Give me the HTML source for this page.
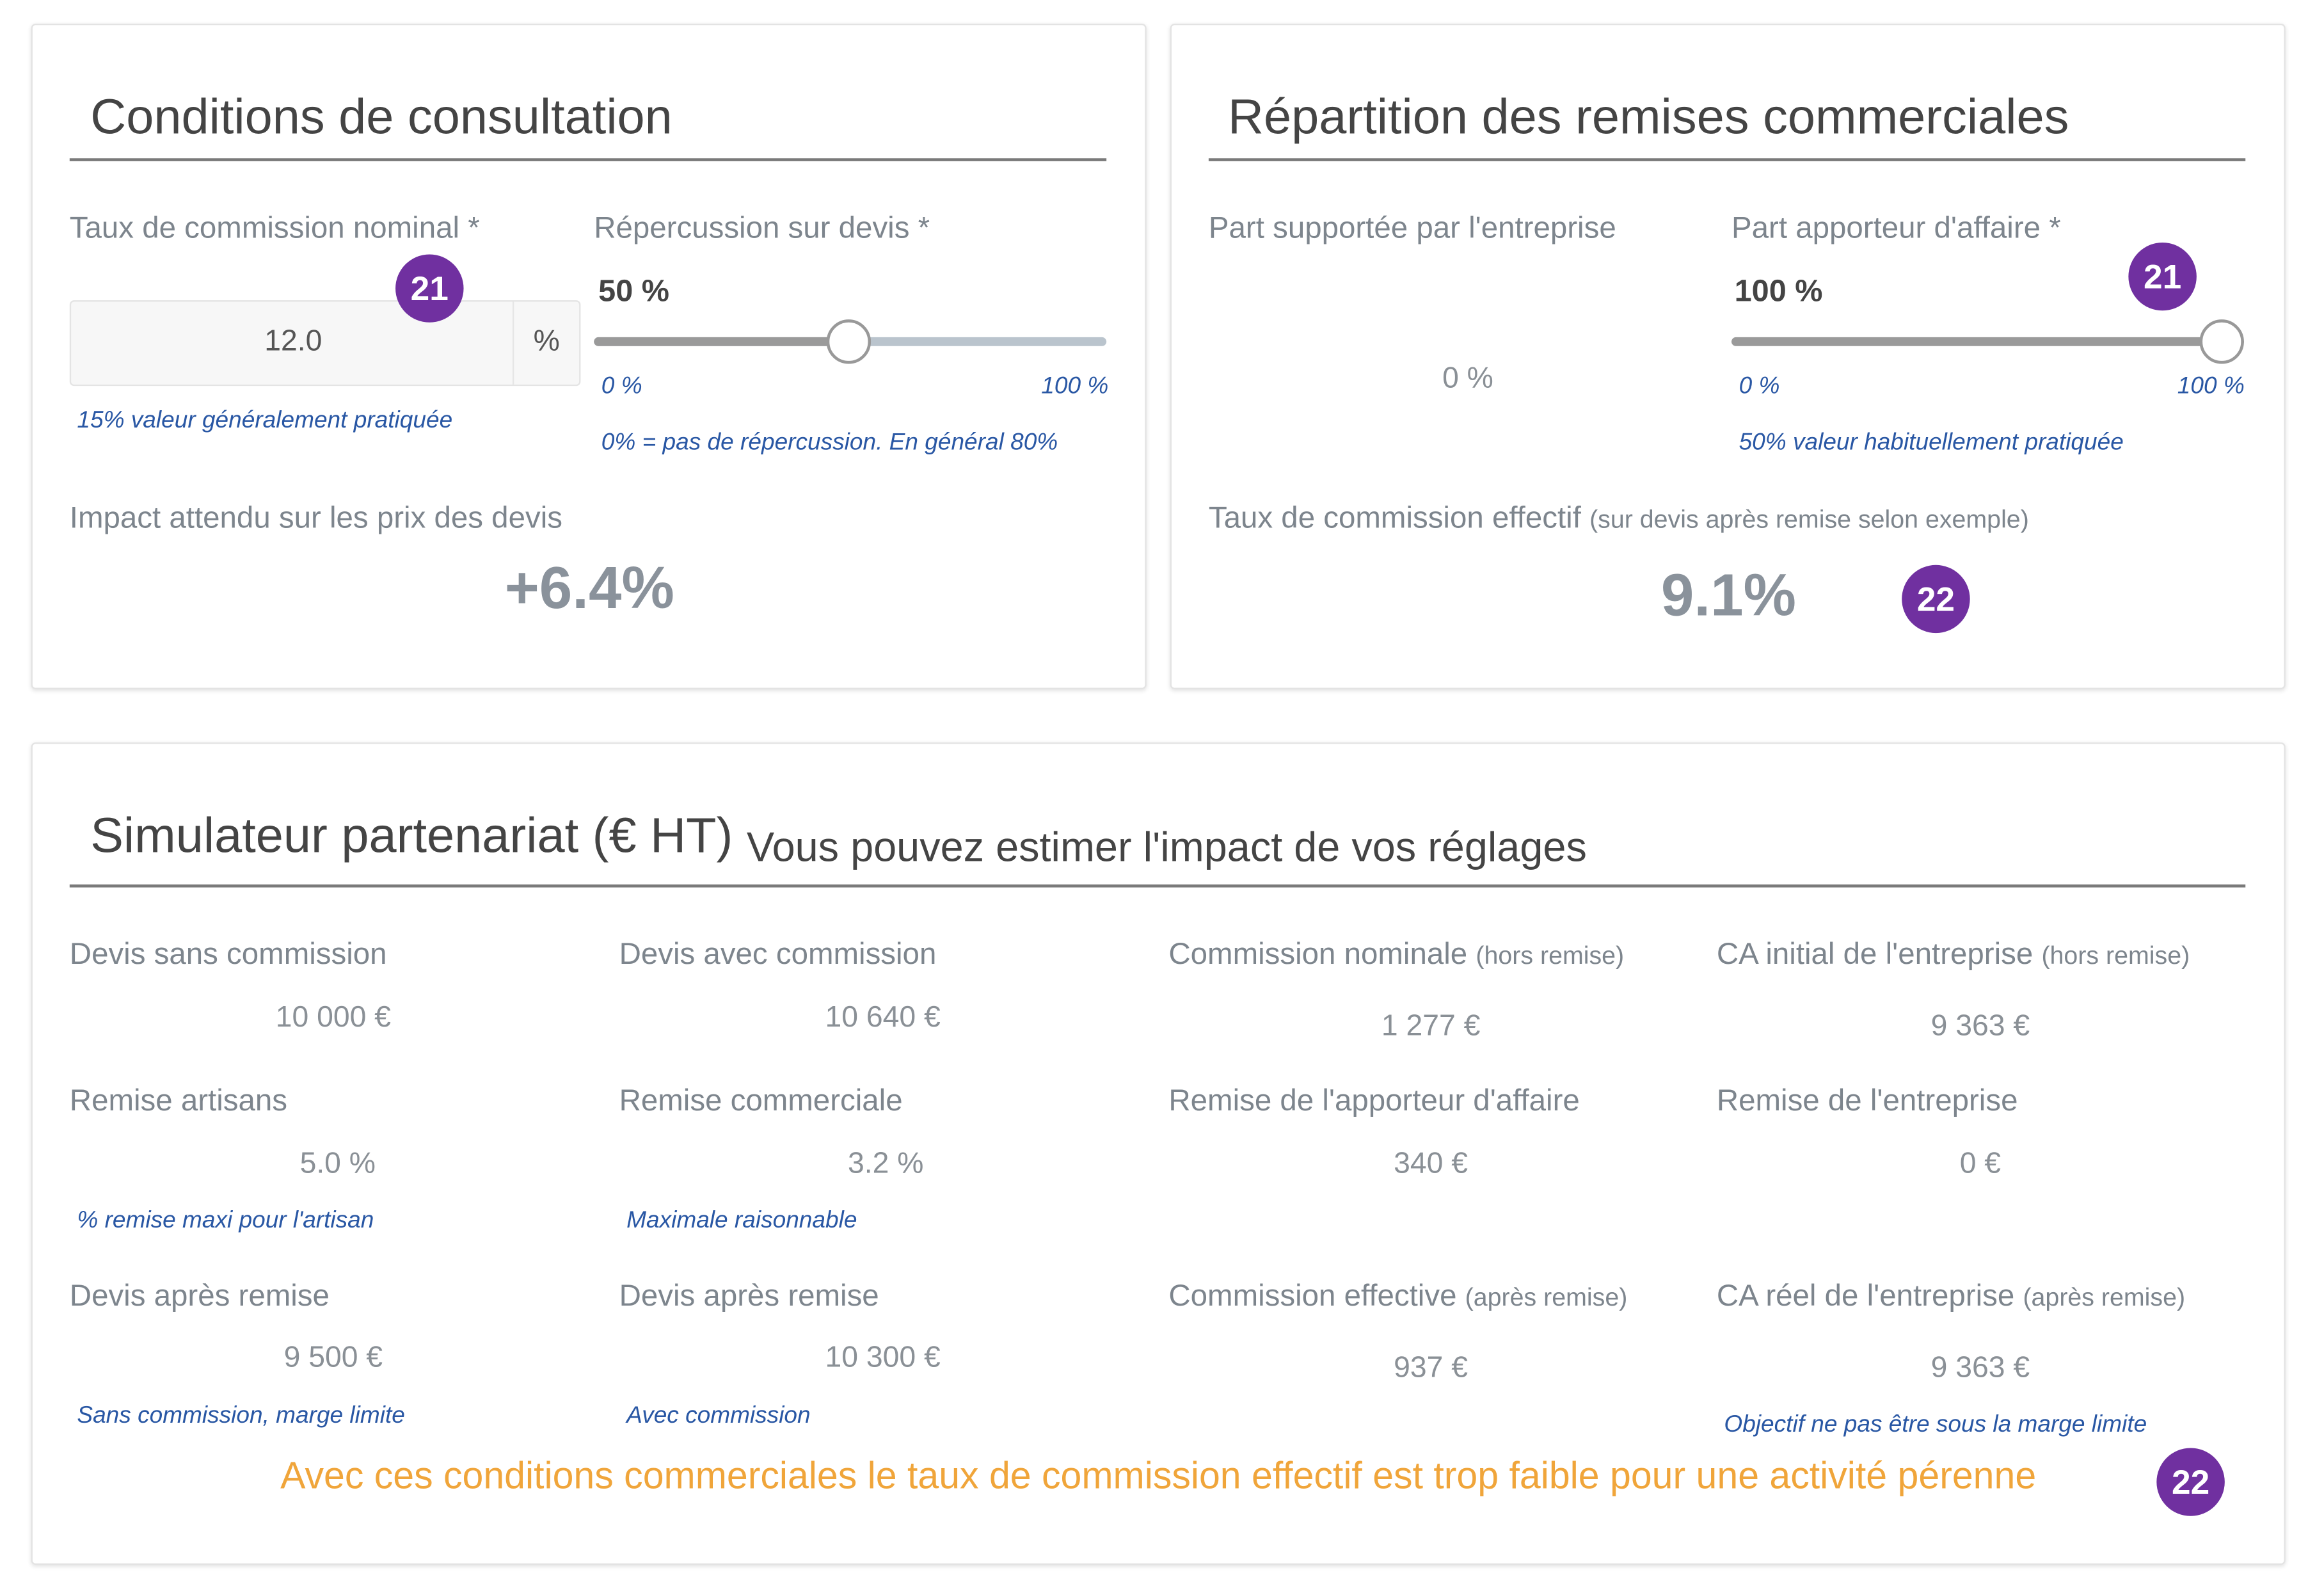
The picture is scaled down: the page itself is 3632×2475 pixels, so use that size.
<!DOCTYPE html>
<html><head><meta charset="utf-8">
<style>
html,body{margin:0;padding:0;background:#fff;}
body{width:3632px;height:2475px;overflow:hidden;position:relative;}
#w{position:absolute;left:0;top:0;width:1570px;height:1071px;transform-origin:0 0;transform:scale(2.3148,2.311);font-family:"Liberation Sans",sans-serif;}
.card{position:absolute;background:#fff;border:1px solid #e3e3e3;border-radius:3px;box-shadow:0 1px 3px rgba(0,0,0,0.12);}
.t{position:absolute;white-space:nowrap;transform:translateY(-50%);line-height:1;}
.c{transform:translate(-50%,-50%);}
.h{color:#444;font-size:33.5px;}
.l{color:#7d858d;font-size:20.5px;}
.v{color:#8a9096;font-size:20px;}
.i{color:#2957a4;font-size:16px;font-style:italic;}
.hr{position:absolute;height:2px;background:#7a7a7a;}
.b{position:absolute;width:46px;height:46px;border-radius:50%;background:#7030a0;color:#fff;font-weight:bold;font-size:23px;text-align:center;line-height:46px;transform:translate(-50%,-50%);}
.big{color:#8a929b;font-size:40px;font-weight:bold;}
.sm{font-size:17px;}
</style></head><body><div id="w">
<div class="card" style="left:21px;top:16px;width:751px;height:448px"></div>
<div class="card" style="left:790px;top:16px;width:751px;height:448px"></div>
<div class="card" style="left:21px;top:502px;width:1520px;height:554px"></div>

<!-- card 1 -->
<div class="t h" style="left:61px;top:80px">Conditions de consultation</div>
<div class="hr" style="left:47px;top:107px;width:700px"></div>
<div class="t l" style="left:47px;top:155px">Taux de commission nominal *</div>
<div style="position:absolute;left:47px;top:203px;width:345px;height:58px;background:#f7f7f7;border:1px solid #e4e4e4;border-radius:3px;box-sizing:border-box"></div>
<div style="position:absolute;left:346px;top:204px;width:1px;height:56px;background:#e6e6e6"></div>
<div class="t c" style="left:198px;top:231px;color:#555;font-size:20px">12.0</div>
<div class="t c" style="left:369px;top:231px;color:#555;font-size:20px">%</div>
<div class="b" style="left:290px;top:195px">21</div>
<div class="t i" style="left:52px;top:285px">15% valeur généralement pratiquée</div>
<div class="t l" style="left:401px;top:155px">Répercussion sur devis *</div>
<div class="t" style="left:404px;top:197px;color:#444;font-size:21px;font-weight:bold">50 %</div>
<div style="position:absolute;left:401px;top:228px;width:346px;height:6px;border-radius:3px;background:#bac4cd"></div>
<div style="position:absolute;left:401px;top:228px;width:172px;height:6px;border-radius:3px;background:#9a9a9a"></div>
<div style="position:absolute;left:558px;top:216px;width:26px;height:26px;border-radius:50%;background:#fff;border:2px solid #999"></div>
<div class="t i" style="left:406px;top:262px">0 %</div>
<div class="t i" style="left:703px;top:262px">100 %</div>
<div class="t i" style="left:406px;top:300px">0% = pas de répercussion. En général 80%</div>
<div class="t l" style="left:47px;top:351px">Impact attendu sur les prix des devis</div>
<div class="t c big" style="left:398px;top:398px">+6.4%</div>

<!-- card 2 -->
<div class="t h" style="left:829px;top:80px">Répartition des remises commerciales</div>
<div class="hr" style="left:816px;top:107px;width:700px"></div>
<div class="t l" style="left:816px;top:155px">Part supportée par l'entreprise</div>
<div class="t c v" style="left:991px;top:256px">0 %</div>
<div class="t l" style="left:1169px;top:155px">Part apporteur d'affaire *</div>
<div class="t" style="left:1171px;top:197px;color:#444;font-size:21px;font-weight:bold">100 %</div>
<div class="b" style="left:1460px;top:187px">21</div>
<div style="position:absolute;left:1169px;top:228px;width:346px;height:6px;border-radius:3px;background:#9a9a9a"></div>
<div style="position:absolute;left:1485px;top:216px;width:26px;height:26px;border-radius:50%;background:#fff;border:2px solid #999"></div>
<div class="t i" style="left:1174px;top:262px">0 %</div>
<div class="t i" style="left:1470px;top:262px">100 %</div>
<div class="t i" style="left:1174px;top:300px">50% valeur habituellement pratiquée</div>
<div class="t l" style="left:816px;top:351px">Taux de commission effectif <span class="sm">(sur devis après remise selon exemple)</span></div>
<div class="t c big" style="left:1167px;top:403px">9.1%</div>
<div class="b" style="left:1307px;top:405px">22</div>

<!-- card 3 -->
<div class="t" style="left:61px;top:566px;color:#444;font-size:33.5px">Simulateur partenariat (€ HT) <span style="font-size:28px;position:relative;top:6px">Vous pouvez estimer l'impact de vos réglages</span></div>
<div class="hr" style="left:47px;top:598px;width:1469px"></div>

<div class="t l" style="left:47px;top:646px">Devis sans commission</div>
<div class="t c v" style="left:225px;top:688px">10 000 €</div>
<div class="t l" style="left:418px;top:646px">Devis avec commission</div>
<div class="t c v" style="left:596px;top:688px">10 640 €</div>
<div class="t l" style="left:789px;top:646px">Commission nominale <span class="sm">(hors remise)</span></div>
<div class="t c v" style="left:966px;top:694px">1 277 €</div>
<div class="t l" style="left:1159px;top:646px">CA initial de l'entreprise <span class="sm">(hors remise)</span></div>
<div class="t c v" style="left:1337px;top:694px">9 363 €</div>

<div class="t l" style="left:47px;top:745px">Remise artisans</div>
<div class="t c v" style="left:228px;top:787px">5.0 %</div>
<div class="t i" style="left:52px;top:826px">% remise maxi pour l'artisan</div>
<div class="t l" style="left:418px;top:745px">Remise commerciale</div>
<div class="t c v" style="left:598px;top:787px">3.2 %</div>
<div class="t i" style="left:423px;top:826px">Maximale raisonnable</div>
<div class="t l" style="left:789px;top:745px">Remise de l'apporteur d'affaire</div>
<div class="t c v" style="left:966px;top:787px">340 €</div>
<div class="t l" style="left:1159px;top:745px">Remise de l'entreprise</div>
<div class="t c v" style="left:1337px;top:787px">0 €</div>

<div class="t l" style="left:47px;top:877px">Devis après remise</div>
<div class="t c v" style="left:225px;top:918px">9 500 €</div>
<div class="t i" style="left:52px;top:958px">Sans commission, marge limite</div>
<div class="t l" style="left:418px;top:877px">Devis après remise</div>
<div class="t c v" style="left:596px;top:918px">10 300 €</div>
<div class="t i" style="left:423px;top:958px">Avec commission</div>
<div class="t l" style="left:789px;top:877px">Commission effective <span class="sm">(après remise)</span></div>
<div class="t c v" style="left:966px;top:925px">937 €</div>
<div class="t l" style="left:1159px;top:877px">CA réel de l'entreprise <span class="sm">(après remise)</span></div>
<div class="t c v" style="left:1337px;top:925px">9 363 €</div>
<div class="t i" style="left:1164px;top:964px">Objectif ne pas être sous la marge limite</div>

<div class="t c" style="left:782px;top:999px;color:#f0a53a;font-size:25.5px">Avec ces conditions commerciales le taux de commission effectif est trop faible pour une activité pérenne</div>
<div class="b" style="left:1479px;top:1002px">22</div>
</div></body></html>
